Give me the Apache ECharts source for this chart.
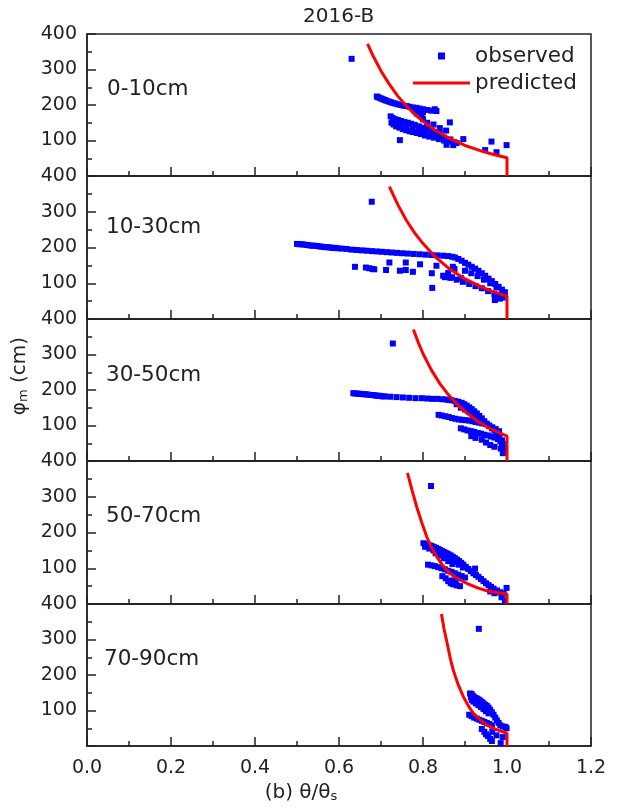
<!DOCTYPE html>
<html>
<head>
<meta charset="utf-8">
<script src="https://cdn.jsdelivr.net/npm/echarts@6/dist/echarts.min.js"></script>
<style>html,body{margin:0;padding:0;background:#fff}#c{width:619px;height:811px}</style>
</head>
<body>
<div id="c"></div>
<script>
const chartTitle = '2016-B';
const depthLabels = ['0-10cm', '10-30cm', '30-50cm', '50-70cm', '70-90cm'];
const xTickValues = [0, 0.2, 0.4, 0.6, 0.8, 1.0, 1.2];
const yTickValues = [100, 200, 300, 400];

// observed points [theta/theta_s, phi_m]
const obs1 = [[0.630,330],
 [0.690,224],[0.693,222],[0.697,220],[0.701,218],[0.705,216],[0.709,214],[0.713,212],[0.718,210],[0.723,208],[0.728,206],[0.734,204],[0.740,202],[0.747,200],[0.754,198],[0.761,197],[0.768,195],[0.776,193],[0.784,192],[0.792,190],[0.800,188],[0.810,186],[0.820,184],
 [0.780,185],[0.790,182],[0.800,180],[0.786,176],[0.797,172],[0.828,188],[0.832,183],
 [0.723,168],[0.728,163],[0.733,160],[0.740,158],[0.748,155],[0.756,152],[0.764,150],[0.772,147],[0.780,144],[0.790,140],[0.800,136],[0.810,132],[0.820,128],[0.830,124],[0.840,120],
 [0.725,150],[0.730,145],[0.736,140],[0.744,136],[0.752,132],[0.760,129],[0.768,126],[0.776,124],[0.785,121],[0.795,118],[0.805,114],[0.815,111],[0.826,108],[0.838,104],[0.850,100],[0.862,97],[0.875,95],
 [0.745,145],[0.760,140],[0.775,135],[0.790,130],[0.805,125],[0.820,118],[0.835,113],[0.850,108],[0.865,103],[0.800,160],[0.810,150],[0.825,145],[0.840,135],[0.855,128],
 [0.745,101],[0.864,151],[0.896,104],[0.963,97],[0.948,73],[0.975,67],[0.999,87],[0.856,88],[0.872,87],[0.880,93]];
const obs2 = [[0.678,328],
 [0.500,210],[0.506,209],[0.512,209],[0.518,208],[0.524,207],[0.530,206],[0.536,205],[0.542,205],[0.548,204],[0.554,203],[0.560,202],[0.566,201],[0.572,201],[0.578,200],[0.584,199],[0.590,199],[0.596,198],
 [0.606,197],[0.618,196],[0.630,194],[0.642,193],[0.654,192],[0.666,191],[0.678,190],[0.690,189],[0.702,188],[0.714,187],[0.726,186],[0.738,185],[0.750,184],[0.764,183],[0.778,182],[0.792,181],[0.806,180],[0.820,179],[0.834,178],[0.848,177],[0.860,176],[0.870,174],
 [0.876,172],[0.884,168],[0.892,163],[0.900,157],[0.908,152],[0.916,146],[0.924,141],[0.932,135],[0.940,128],[0.948,121],[0.956,113],[0.964,106],[0.972,98],[0.980,90],[0.988,82],[0.995,75],
 [0.638,146],[0.664,144],[0.672,142],[0.680,140],[0.684,139],[0.712,137],[0.720,158],[0.745,135],[0.759,158],[0.759,137],[0.776,132],[0.793,153],[0.821,128],[0.822,87],[0.832,149],[0.852,117],[0.871,146],[0.869,117],[0.890,115],[0.860,129],[0.875,140],
 [0.848,121],[0.865,115],[0.880,110],[0.895,104],[0.910,98],[0.925,92],[0.940,86],[0.955,78],[0.970,70],[0.983,62],
 [0.900,135],[0.915,128],[0.930,120],[0.945,110],[0.960,100],[0.975,88],[0.990,72],
 [0.971,53],[0.983,57],[0.990,60],[0.978,66]];
const obs3 = [[0.728,331],
 [0.634,191],[0.639,190],[0.644,190],[0.649,189],[0.654,189],[0.659,188],[0.664,188],[0.669,187],[0.674,186],[0.679,186],[0.684,185],[0.689,184],[0.694,184],[0.699,183],[0.704,182],[0.709,182],
 [0.722,181],[0.737,180],[0.752,179],[0.767,178],[0.782,177],[0.797,177],[0.810,176],[0.822,175],[0.834,175],[0.846,174],[0.856,173],[0.862,172],
 [0.868,171],[0.876,169],[0.884,167],[0.892,164],[0.898,160],[0.904,156],[0.910,151],[0.916,146],[0.922,140],[0.928,134],[0.934,127],[0.940,120],[0.946,112],[0.952,105],[0.958,98],[0.964,92],[0.970,86],[0.976,80],[0.982,70],[0.988,58],[0.992,48],
 [0.880,160],[0.890,150],[0.900,145],[0.910,138],[0.920,130],[0.930,125],
 [0.837,130],[0.845,128],[0.853,126],[0.861,124],[0.869,121],[0.877,119],[0.885,117],[0.893,116],[0.901,115],[0.909,114],[0.917,112],[0.925,110],[0.933,108],[0.941,106],[0.949,104],[0.957,100],[0.965,95],[0.973,90],[0.981,84],
 [0.890,92],[0.898,89],[0.906,86],[0.914,84],[0.922,82],[0.930,79],[0.938,77],[0.946,74],[0.954,72],[0.962,69],[0.970,66],[0.978,62],[0.984,56],[0.988,46],[0.990,38],[0.992,30],
 [0.915,70],[0.925,65],[0.940,60],[0.950,52],[0.960,45],[0.970,40],[0.985,35],[0.990,22]];
const obs4 = [[0.819,330],
 [0.801,170],[0.806,168],[0.811,166],[0.816,164],[0.821,162],[0.826,159],[0.831,157],[0.836,154],[0.841,151],[0.846,148],[0.851,145],[0.856,142],[0.861,139],[0.866,136],[0.871,132],[0.876,128],[0.881,124],[0.886,120],[0.891,115],[0.896,110],[0.902,104],[0.908,98],[0.914,92],[0.920,86],[0.926,81],[0.932,76],[0.938,70],[0.944,64],[0.950,58],[0.956,53],[0.962,48],[0.968,43],[0.976,38],[0.984,33],[0.992,29],
 [0.805,160],[0.815,155],[0.825,150],[0.835,145],[0.845,138],[0.855,132],[0.865,125],[0.875,118],[0.885,110],[0.895,102],
 [0.830,142],[0.840,135],[0.850,128],[0.860,120],[0.870,112],
 [0.812,110],[0.820,108],[0.828,106],[0.836,103],[0.844,100],[0.852,97],[0.860,93],[0.868,90],[0.876,86],[0.884,82],[0.892,78],[0.900,74],
 [0.846,78],[0.854,72],[0.860,64],[0.866,58],[0.872,55],[0.880,52],[0.888,50],[0.870,66],[0.878,62],
 [0.924,99],[0.999,45],[0.987,19],[0.995,10],[0.970,30],[0.960,35]];
const obs5 = [[0.933,330],
 [0.912,148],[0.916,146],[0.920,140],[0.924,136],[0.928,134],[0.932,131],[0.936,128],[0.940,124],[0.944,120],[0.948,116],[0.952,113],[0.956,108],[0.960,102],[0.964,95],[0.968,88],[0.972,80],[0.976,72],[0.980,65],[0.984,58],[0.990,55],[0.996,54],[0.999,50],
 [0.914,138],[0.916,130],[0.920,125],[0.926,120],[0.932,115],[0.938,110],[0.944,104],[0.950,98],[0.956,92],
 [0.910,88],[0.916,84],[0.922,80],[0.928,77],[0.934,74],[0.940,71],[0.946,68],[0.952,65],[0.958,62],[0.964,58],
 [0.940,48],[0.946,40],[0.950,33],[0.955,28],[0.960,20],[0.964,14],[0.985,8],[0.990,25],[0.975,30],[0.965,40]];

// predicted curves [theta/theta_s, phi_m]
const pred1 = [[0.668,372],[0.680,341],[0.700,296],[0.720,258],[0.740,225],[0.760,198],[0.780,174],[0.800,154],[0.830,128],[0.860,108],[0.900,86],[0.940,70],[0.970,60],[1.000,51.5],[1.000,0]];
const pred2 = [[0.720,370],[0.740,320],[0.760,277],[0.780,241],[0.800,211],[0.830,173],[0.860,143],[0.900,112],[0.940,89],[0.970,75],[1.000,64],[1.000,0]];
const pred3 = [[0.777,370],[0.790,330],[0.800,302],[0.820,256],[0.840,218],[0.860,187],[0.880,161],[0.900,139],[0.930,112],[0.960,91],[1.000,70],[1.000,0]];
const pred4 = [[0.763,367],[0.774,318],[0.785,272],[0.797,228],[0.809,188],[0.820,158],[0.833,132],[0.848,106],[0.864,86],[0.880,72],[0.904,58],[0.930,45],[0.952,37],[0.975,32],[1.000,28],[1.000,0]];
const pred5 = [[0.844,372],[0.850,330],[0.856,298],[0.864,252],[0.872,214],[0.884,172],[0.896,139],[0.908,113],[0.920,92],[0.935,75],[0.952,59],[0.975,46],[1.000,36],[1.000,0]];

const obsAll = [obs1, obs2, obs3, obs4, obs5];
const predAll = [pred1, pred2, pred3, pred4, pred5];

const FONT = 'DejaVu Sans';
const INK = '#222';
const tops = [34, 176, 319, 461, 604];
const heights = [142, 143, 142, 143, 142];
const N = 5;

const grids = [], xAxes = [], yAxes = [], series = [], titles = [];
titles.push({text: chartTitle, left: 303, top: 7, padding: 0,
  textStyle: {fontFamily: FONT, fontSize: 20, fontWeight: 'normal', color: INK}});
const labelTops = [78, 216, 364, 505, 648];
const labelLefts = [107, 106, 106, 106, 104];
for (let i = 0; i < N; i++) {
  grids.push({left: 87, right: 28, top: tops[i], height: heights[i], show: true,
    borderColor: INK, borderWidth: 1.5, backgroundColor: 'transparent'});
  const isBottom = i === N - 1;
  xAxes.push({
    gridIndex: i, type: 'value', min: 0, max: 1.2, interval: 0.2,
    axisLine: {show: true, onZero: false, lineStyle: {color: INK, width: 1.5}},
    axisTick: {show: true, inside: true, length: 9, lineStyle: {color: INK, width: 1.5}},
    minorTick: {show: true, splitNumber: 2, length: 5, lineStyle: {color: INK, width: 1.5}},
    splitLine: {show: false}, minorSplitLine: {show: false},
    axisLabel: {show: isBottom, fontFamily: FONT, fontSize: 19, color: INK, margin: 13,
      formatter: v => {
        const t = xTickValues.find(a => Math.abs(a - v) < 1e-6);
        return t === undefined ? '' : t.toFixed(1);
      }},
    name: isBottom ? '{a|(b) θ/θ}{s|s}' : '',
    nameLocation: 'middle', nameGap: 37,
    nameTextStyle: {padding: [0, 76, 0, 0], rich: {
      a: {fontFamily: FONT, fontSize: 20, color: INK, lineHeight: 20, verticalAlign: 'top'},
      s: {fontFamily: FONT, fontSize: 13, color: INK, lineHeight: 13, verticalAlign: 'bottom', padding: [9, 0, 0, 0]}
    }}
  });
  yAxes.push({
    gridIndex: i, type: 'value', min: 0, max: 400, interval: 100,
    axisLine: {show: true, onZero: false, lineStyle: {color: INK, width: 1.5}},
    axisTick: {show: true, inside: true, length: 9, lineStyle: {color: INK, width: 1.5}},
    minorTick: {show: true, splitNumber: 2, length: 5, lineStyle: {color: INK, width: 1.5}},
    splitLine: {show: false},
    axisLabel: {fontFamily: FONT, fontSize: 19, color: INK, margin: 10,
      formatter: v => (yTickValues.indexOf(v) >= 0 ? String(v) : '')},
    name: i === 2 ? '{a|φ}{s|m}{a| (cm)}' : '',
    nameLocation: 'middle', nameGap: 52,
    nameTextStyle: {padding: [0, 0, 0, 28], rich: {
      a: {fontFamily: FONT, fontSize: 20, color: INK, lineHeight: 20, verticalAlign: 'top'},
      s: {fontFamily: FONT, fontSize: 13, color: INK, lineHeight: 13, verticalAlign: 'bottom', padding: [9, 0, 0, 0]}
    }}
  });
  series.push({
    name: 'observed', type: 'scatter', xAxisIndex: i, yAxisIndex: i,
    symbol: 'rect', symbolSize: 6, itemStyle: {color: '#0000ff', opacity: 1},
    data: obsAll[i], z: 2
  });
  series.push({
    name: 'predicted', type: 'line', xAxisIndex: i, yAxisIndex: i,
    symbol: 'none', showSymbol: false, smooth: false, lineStyle: {color: '#ff0000', width: 3},
    itemStyle: {color: '#ff0000'},
    data: predAll[i], z: 3
  });
  titles.push({text: depthLabels[i], left: labelLefts[i], top: labelTops[i], padding: 0,
    textStyle: {fontFamily: FONT, fontSize: 21.5, fontWeight: 'normal', color: INK}});
}

const chart = echarts.init(document.getElementById('c'), null, {renderer: 'canvas'});
chart.setOption({
  backgroundColor: '#fff',
  animation: false,
  title: titles,
  grid: grids,
  xAxis: xAxes,
  yAxis: yAxes,
  legend: {
    left: 413, top: 45, orient: 'vertical', itemWidth: 57, itemHeight: 7, itemGap: 5,
    padding: 0, symbolKeepAspect: true,
    textStyle: {fontFamily: FONT, fontSize: 21.5, color: INK},
    data: [
      {name: 'observed', icon: 'path://M0,0L10,0L10,10L0,10Z', itemStyle: {color: '#0000ff', opacity: 1}},
      {name: 'predicted', icon: 'path://M0,0L57,0L57,3L0,3Z', itemStyle: {color: '#ff0000'}}
    ]
  },
  series: series
});
</script>
</body>
</html>
